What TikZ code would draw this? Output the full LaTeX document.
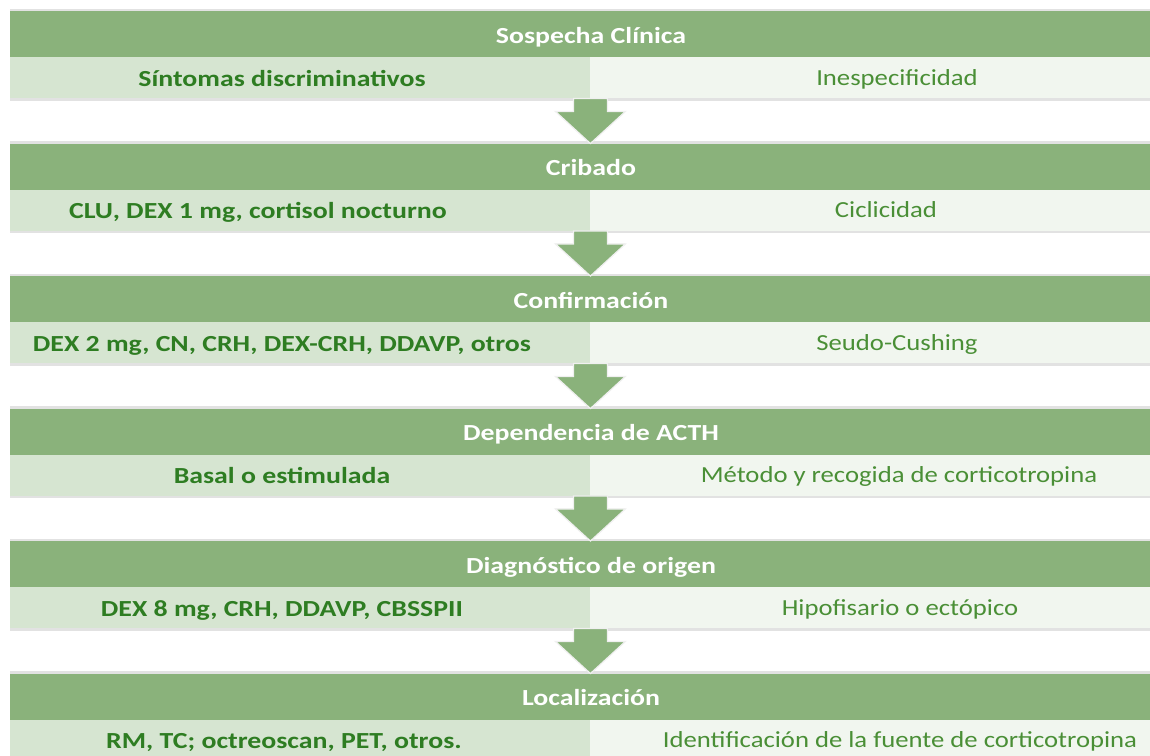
\documentclass[tikz,border=0pt]{standalone}
\usepackage{fontspec}
\usepackage{graphicx}
\setmainfont{Carlito}
\usetikzlibrary{calc}
\definecolor{hdr}{HTML}{8AB27B}
\definecolor{lcell}{HTML}{D6E5D1}
\definecolor{rcell}{HTML}{F1F6EF}
\definecolor{dgreen}{HTML}{2E7D22}
\definecolor{mgreen}{HTML}{4A8F36}
\definecolor{edgegray}{HTML}{E2E2E2}
\newcommand\bsx[1]{\scalebox{1.21}[1]{#1}}
\newcommand\rsx[1]{\scalebox{1.16}[1]{#1}}
\begin{document}
\begin{tikzpicture}[x=1pt,y=-1pt,
  hdrbox/.style={fill=hdr,draw=none,minimum width=1140pt,minimum height=46pt,inner sep=0pt,anchor=north west},
  lbox/.style={fill=lcell,draw=none,minimum width=580pt,minimum height=41pt,inner sep=0pt,anchor=north west},
  rbox/.style={fill=rcell,draw=none,minimum width=560pt,minimum height=41pt,inner sep=0pt,anchor=north west},
  htext/.style={anchor=base,inner sep=0pt,text=white,font=\fontsize{23}{28}\selectfont\bfseries},
  ltext/.style={anchor=base,inner sep=0pt,text=dgreen,font=\fontsize{23}{28}\selectfont\bfseries},
  rtext/.style={anchor=base,inner sep=0pt,text=mgreen,font=\fontsize{23}{28}\selectfont},
  edgeline/.style={draw=edgegray,line width=2.5pt},
  arrowshape/.style={fill=hdr,draw=white!88!gray,line width=1.2pt,line join=miter}
]
\useasboundingbox (0,0) rectangle (1150,755);
\fill[white] (0,0) rectangle (1150,755);
\foreach \i/\T/\hd/\lt/\lx/\rt/\rx in {
  1/11/{Sospecha Clínica}/{Síntomas discriminativos}/282/{Inespecificidad}/897,
  2/143.5/{Cribado}/{CLU, DEX 1 mg, cortisol nocturno}/258/{Ciclicidad}/886,
  3/276/{Confirmación}/{DEX 2 mg, CN, CRH, DEX-CRH, DDAVP, otros}/282/{Seudo-Cushing}/897,
  4/408.5/{Dependencia de ACTH}/{Basal o estimulada}/282/{Método y recogida de corticotropina}/899,
  5/541/{Diagnóstico de origen}/{DEX 8 mg, CRH, DDAVP, CBSSPII}/282/{Hipofisario o ectópico}/900,
  6/673.5/{Localización}/{RM, TC; octreoscan, PET, otros.}/284/{Identificación de la fuente de corticotropina}/900}{
  \node[hdrbox] (h\i) at (10,\T) {};
  \node[lbox] (l\i) at (10,{\T+46}) {};
  \node[rbox] (r\i) at (590,{\T+46}) {};
  \draw[edgeline] ([yshift=1.25pt]h\i.north west) -- ([yshift=1.25pt]h\i.north east);
  \draw[edgeline] ([yshift=-1.25pt]l\i.south west) -- ([yshift=-1.25pt]r\i.south east);
  \node[htext] (ht\i) at (591,{\T+32}) {\bsx{\hd}};
  \node[ltext] (lt\i) at (\lx,{\T+75}) {\bsx{\lt}};
  \node[rtext] (rt\i) at (\rx,{\T+74}) {\rsx{\rt}};
}
\foreach \a/\b in {1/2,2/3,3/4,4/5,5/6}{
  \draw[arrowshape]
    ($(l\a.south east)+(-17,0)$) -- ($(l\a.south east)+(17,0)$) --
    ($(l\a.south east)+(17,13)$) -- ($(l\a.south east)+(35,13)$) --
    (l\a.south east |- h\b.north) --
    ($(l\a.south east)+(-35,13)$) -- ($(l\a.south east)+(-17,13)$) -- cycle;
}
\end{tikzpicture}
\end{document}
